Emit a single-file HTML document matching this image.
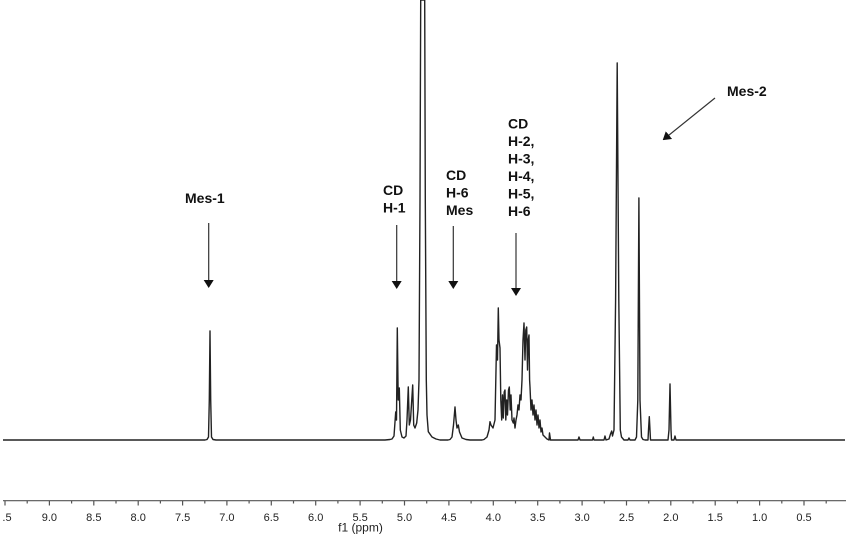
<!DOCTYPE html>
<html>
<head>
<meta charset="utf-8">
<style>
  html, body { margin:0; padding:0; background:#fff; }
  body { width:850px; height:539px; overflow:hidden; }
  svg { display:block; }
  .lbl { font-family:"Liberation Sans", Arial, sans-serif; font-weight:bold; font-size:14px; fill:#111; }
  .tick { font-family:"Liberation Sans", Arial, sans-serif; font-size:11px; fill:#222; }
</style>
</head>
<body>
<svg width="850" height="539" viewBox="0 0 850 539" xmlns="http://www.w3.org/2000/svg">
  <defs>
    <marker id="ah" markerWidth="8" markerHeight="10" refX="7" refY="5" orient="auto" markerUnits="userSpaceOnUse">
      <path d="M0,0 L8,5 L0,10 Z" fill="#111"/>
    </marker>
  </defs>

  <!-- spectrum -->
  <polyline fill="none" stroke="#222" stroke-width="1.4" stroke-linejoin="round" points="
    3,440 205,440 207,439.5 208.5,437 209.3,400 210,331 210.7,400 211.5,437 213,439.5 216,440
    385,440 390,439.5 392,439 394,436 395.7,412 396.5,420 397.3,328 398.2,400 399.3,388 400.3,430 402,437 404,438 406,436 407,420 408.3,387 409.3,425 410.5,420 412.7,385 413.7,425 415,428 416.7,423 418,410 419,380 420,200 420.7,0
    424.7,0 425.3,200 426.3,380 427,415 428.3,431.7 432,437 436,439 440,440
    448,440 450,439.5 452,437 453.5,425 455,407 456,420 457,428 458.3,425 459.5,432 462,438 466,439.5 470,440
    482,440 484,439.5 487,437 489,430 490,421.7 491,425 493,428 495,420 496.5,345 497.5,360 498.3,308 499,340 500,348 500.8,400 501.7,420 502.5,395 503.3,418 504.2,392 505,390 505.8,420 506.7,400 507.5,415 508.5,390 509.3,387 510.2,410 511,395 512,420 513.3,423 514,418 515,428 516,420 517,415 518,405 519,410 520,395 521,400 522,380 523,340 524,323 525,360 525.8,330 526.7,327 527.5,370 528.2,340 529,335 529.6,380 530,387 531,410 532,400 533,415 534,405 535,420 536,410 537,425 538,415 539,428 540,420 541,432 542,428 543,435 545,437 547,439 549,440 549.5,433 550.5,440
    578,440 579,437 580,440 592.5,440 593.3,437 594,440 604,440 605,436 606,440 609,439 610.5,434 611.7,431 612.5,436 614,430 615.6,300 617.2,63
    618.8,300 620.3,430 621.5,437 624,440 628,440 629,438 630,440
    635,440 636.5,437 637.8,400 638.9,198 640,400 641.5,437 643,439.5 645,440
    648,440 648.5,430 649.3,416.7 650,430 650.5,440 668,440 669,430 670,384 671,430 671.5,440 674,440 675,436 676,440 845,440"/>

  <!-- arrows -->
  <g stroke="#333" stroke-width="1.2" fill="none">
    <line x1="208.7" y1="223" x2="208.7" y2="287" marker-end="url(#ah)"/>
    <line x1="396.7" y1="225" x2="396.7" y2="288" marker-end="url(#ah)"/>
    <line x1="453.3" y1="226" x2="453.3" y2="288" marker-end="url(#ah)"/>
    <line x1="516" y1="233" x2="516" y2="295" marker-end="url(#ah)"/>
    <line x1="715" y1="98" x2="663.5" y2="139.5" marker-end="url(#ah)"/>
  </g>

  <!-- labels -->
  <text class="lbl" x="185" y="203">Mes-1</text>
  <text class="lbl" x="383" y="195">CD</text>
  <text class="lbl" x="383" y="212.5">H-1</text>
  <text class="lbl" x="446" y="180">CD</text>
  <text class="lbl" x="446" y="197.5">H-6</text>
  <text class="lbl" x="446" y="215">Mes</text>
  <text class="lbl" x="508" y="128.3">CD</text>
  <text class="lbl" x="508" y="145.8">H-2,</text>
  <text class="lbl" x="508" y="163.3">H-3,</text>
  <text class="lbl" x="508" y="180.8">H-4,</text>
  <text class="lbl" x="508" y="198.3">H-5,</text>
  <text class="lbl" x="508" y="215.8">H-6</text>
  <text class="lbl" x="727" y="96">Mes-2</text>

  <!-- axis -->
  <line x1="3" y1="500.7" x2="846" y2="500.7" stroke="#555" stroke-width="1.2"/>
  <g stroke="#555" stroke-width="1.2">
    <line x1="5" y1="500.7" x2="5" y2="505.5"/>
    <line x1="27.2" y1="500.7" x2="27.2" y2="503.5"/>
    <line x1="49.4" y1="500.7" x2="49.4" y2="505.5"/>
    <line x1="71.6" y1="500.7" x2="71.6" y2="503.5"/>
    <line x1="93.8" y1="500.7" x2="93.8" y2="505.5"/>
    <line x1="116" y1="500.7" x2="116" y2="503.5"/>
    <line x1="138.2" y1="500.7" x2="138.2" y2="505.5"/>
    <line x1="160.4" y1="500.7" x2="160.4" y2="503.5"/>
    <line x1="182.6" y1="500.7" x2="182.6" y2="505.5"/>
    <line x1="204.8" y1="500.7" x2="204.8" y2="503.5"/>
    <line x1="226.9" y1="500.7" x2="226.9" y2="505.5"/>
    <line x1="249.1" y1="500.7" x2="249.1" y2="503.5"/>
    <line x1="271.3" y1="500.7" x2="271.3" y2="505.5"/>
    <line x1="293.5" y1="500.7" x2="293.5" y2="503.5"/>
    <line x1="315.7" y1="500.7" x2="315.7" y2="505.5"/>
    <line x1="337.9" y1="500.7" x2="337.9" y2="503.5"/>
    <line x1="360.1" y1="500.7" x2="360.1" y2="505.5"/>
    <line x1="382.3" y1="500.7" x2="382.3" y2="503.5"/>
    <line x1="404.5" y1="500.7" x2="404.5" y2="505.5"/>
    <line x1="426.7" y1="500.7" x2="426.7" y2="503.5"/>
    <line x1="448.9" y1="500.7" x2="448.9" y2="505.5"/>
    <line x1="471.1" y1="500.7" x2="471.1" y2="503.5"/>
    <line x1="493.3" y1="500.7" x2="493.3" y2="505.5"/>
    <line x1="515.5" y1="500.7" x2="515.5" y2="503.5"/>
    <line x1="537.7" y1="500.7" x2="537.7" y2="505.5"/>
    <line x1="559.9" y1="500.7" x2="559.9" y2="503.5"/>
    <line x1="582.1" y1="500.7" x2="582.1" y2="505.5"/>
    <line x1="604.3" y1="500.7" x2="604.3" y2="503.5"/>
    <line x1="626.5" y1="500.7" x2="626.5" y2="505.5"/>
    <line x1="648.7" y1="500.7" x2="648.7" y2="503.5"/>
    <line x1="670.8" y1="500.7" x2="670.8" y2="505.5"/>
    <line x1="693" y1="500.7" x2="693" y2="503.5"/>
    <line x1="715.2" y1="500.7" x2="715.2" y2="505.5"/>
    <line x1="737.4" y1="500.7" x2="737.4" y2="503.5"/>
    <line x1="759.6" y1="500.7" x2="759.6" y2="505.5"/>
    <line x1="781.8" y1="500.7" x2="781.8" y2="503.5"/>
    <line x1="804" y1="500.7" x2="804" y2="505.5"/>
    <line x1="826.2" y1="500.7" x2="826.2" y2="503.5"/>
  </g>
  <g class="tick" text-anchor="middle">
    <text x="7" y="521">.5</text>
    <text x="49.4" y="521">9.0</text>
    <text x="93.8" y="521">8.5</text>
    <text x="138.2" y="521">8.0</text>
    <text x="182.6" y="521">7.5</text>
    <text x="226.9" y="521">7.0</text>
    <text x="271.3" y="521">6.5</text>
    <text x="315.7" y="521">6.0</text>
    <text x="360.1" y="521">5.5</text>
    <text x="404.5" y="521">5.0</text>
    <text x="448.9" y="521">4.5</text>
    <text x="493.3" y="521">4.0</text>
    <text x="537.7" y="521">3.5</text>
    <text x="582.1" y="521">3.0</text>
    <text x="626.5" y="521">2.5</text>
    <text x="670.8" y="521">2.0</text>
    <text x="715.2" y="521">1.5</text>
    <text x="759.6" y="521">1.0</text>
    <text x="804" y="521">0.5</text>
  </g>
  <text x="360.5" y="531.5" text-anchor="middle" font-family="Liberation Sans, Arial, sans-serif" font-size="12" fill="#222">f1 (ppm)</text>
</svg>
</body>
</html>
